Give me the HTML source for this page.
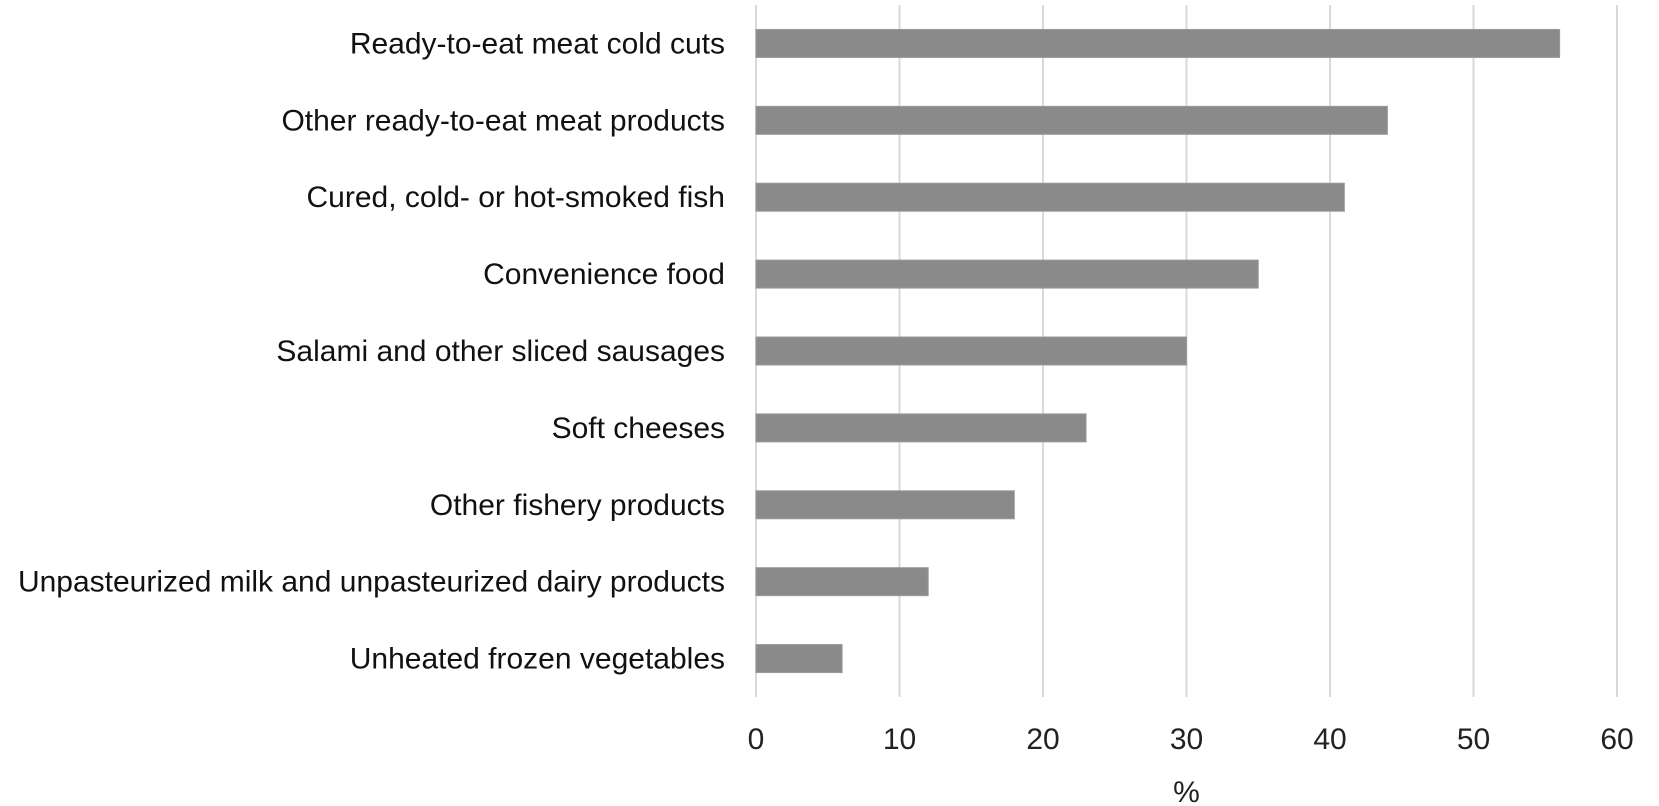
<!DOCTYPE html>
<html><head><meta charset="utf-8"><style>
html,body{margin:0;padding:0;background:#fff;}
svg{display:block;font-family:"Liberation Sans",sans-serif;}
</style></head><body>
<svg id="chart" width="1659" height="806"></svg>
<script>
const categories=["Ready-to-eat meat cold cuts","Other ready-to-eat meat products","Cured, cold- or hot-smoked fish","Convenience food","Salami and other sliced sausages","Soft cheeses","Other fishery products","Unpasteurized milk and unpasteurized dairy products","Unheated frozen vegetables"];
const values=[56,44,41,35,30,23,18,12,6];
const ticks=[0,10,20,30,40,50,60];
const NS="http://www.w3.org/2000/svg";
const svgEl=document.getElementById('chart');
const x0=756,x1=1617,yTop=5,yBot=697,xmax=60;
const xs=v=>x0+(x1-x0)*v/xmax;
const band=(yBot-yTop)/categories.length;
const yc=i=>yTop+band*(i+0.5);
function mk(t,a){const e=document.createElementNS(NS,t);for(const k in a)e.setAttribute(k,a[k]);svgEl.appendChild(e);return e;}
ticks.forEach((t)=>{
  const g=mk('line',{x1:xs(t),x2:xs(t),y1:yTop,y2:yBot,stroke:'#d9d9d9','stroke-width':2});
  
  
  const l=mk('text',{x:xs(t),y:749,'text-anchor':'middle','font-size':30,fill:'#222'});
  l.textContent=t;
  
  
});
categories.forEach((c,i)=>{
  const r=mk('rect',{x:x0,y:yc(i)-14,width:xs(values[i])-x0,height:28,fill:'#8a8a8a',stroke:'#9a9a9a','stroke-width':1});
  
  
  const t=mk('text',{x:725,y:yc(i)+10,'text-anchor':'end','font-size':30,fill:'#111'});
  t.textContent=c;
  
  
  let w=0;try{w=t.getComputedTextLength();}catch(e){}
  if(w>718){t.setAttribute('textLength',718);t.setAttribute('lengthAdjust','spacingAndGlyphs');}
});
const xt=mk('text',{x:(x0+x1)/2,y:802,'text-anchor':'middle','font-size':30,fill:'#222'});
xt.textContent='%';


</script>
</body></html>
